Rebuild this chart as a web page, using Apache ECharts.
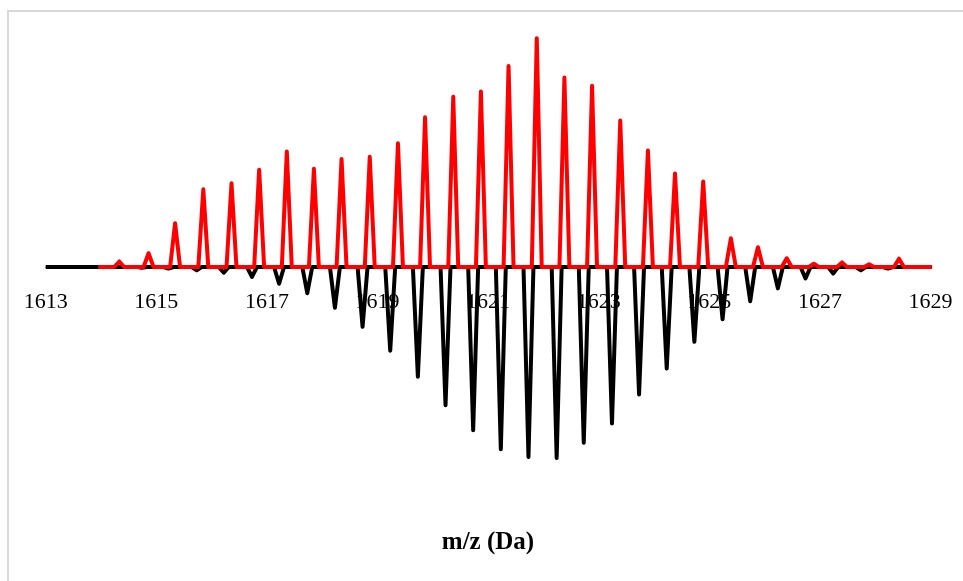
<!DOCTYPE html>
<html>
<head>
<meta charset="utf-8">
<title>m/z mirror spectrum</title>
<script src="https://cdn.jsdelivr.net/npm/echarts@6/dist/echarts.min.js"></script>
<style>
  html, body { margin: 0; padding: 0; background: #fff; }
  #chart { width: 963px; height: 581px; }
</style>
</head>
<body>
<div id="chart"></div>
<script>
'use strict';

// x axis ticks (Da)
const mzMin = 1613;
const mzMax = 1629;
const mzStep = 2;

// red trace (upper) - peak centres and relative heights
const redStart = 1613.95;
const redEnd = 1629.03;
const redMz = [
    1614.33, 1614.86, 1615.34, 1615.85, 1616.36, 1616.86, 1617.36, 1617.85,
    1618.35, 1618.86, 1619.37, 1619.86, 1620.37, 1620.87, 1621.37, 1621.88,
    1622.38, 1622.88, 1623.39, 1623.89, 1624.38, 1624.89, 1625.39, 1625.88,
    1626.40, 1626.89, 1627.40, 1627.89, 1628.43
];
const redHeight = [
    2.4, 6.0, 19.0, 33.8, 36.4, 42.3, 50.2, 42.7,
    47.0, 47.9, 53.8, 65.1, 74.0, 76.3, 87.4, 99.5,
    82.4, 78.8, 63.7, 50.7, 40.7, 37.2, 12.5, 8.6,
    3.8, 1.4, 2.0, 1.2, 3.6
];

// black trace (mirrored, lower) - peak centres and relative depths
const blackStart = 1613;
const blackEnd = 1629;
const blackMz = [
    1614.74, 1615.22, 1615.73, 1616.22, 1616.73, 1617.22, 1617.73, 1618.23,
    1618.73, 1619.23, 1619.73, 1620.23, 1620.73, 1621.23, 1621.73, 1622.24,
    1622.73, 1623.24, 1623.73, 1624.23, 1624.73, 1625.24, 1625.74, 1626.24,
    1626.74, 1627.24, 1627.74, 1628.23
];
const blackDepth = [
    0.3, 0.7, 1.4, 2.5, 4.3, 7.3, 11.4, 17.7,
    26.0, 36.4, 47.7, 60.1, 71.0, 79.2, 82.6, 83.0,
    76.4, 68.0, 55.4, 44.1, 32.5, 22.7, 14.9, 9.3,
    5.0, 2.8, 1.4, 0.7
];

const PEAK_HALF_WIDTH = 0.09;

/**
 * Turn a peak list into a stick-like profile for a line series
 */
const toProfile = (start, end, centres, values, sign) => {
    const pts = [[start, 0]];
    centres.forEach((c, i) => {
        pts.push([c - PEAK_HALF_WIDTH, 0]);
        pts.push([c, sign * values[i]]);
        pts.push([c + PEAK_HALF_WIDTH, 0]);
    });
    pts.push([end, 0]);
    return pts;
};

const serif = "'Liberation Serif', 'Times New Roman', serif";

const chart = echarts.init(document.getElementById('chart'));

// grid bottom sits on the zero line; the mirrored trace is drawn below it unclipped
chart.setOption({
    animation: false,
    backgroundColor: '#fff',
    grid: { left: 45.7, right: 32.5, top: 37, bottom: 314 },
    title: {
        text: 'm/z (Da)',
        left: 483,
        top: 525,
        textAlign: 'center',
        textStyle: { fontFamily: serif, fontWeight: 'bold', fontSize: 25, color: '#000' }
    },
    graphic: [{
        type: 'rect',
        shape: { x: 8, y: 11, width: 1000, height: 1000 },
        style: { fill: 'none', stroke: '#d9d9d9', lineWidth: 2 },
        silent: true
    }],
    xAxis: {
        type: 'value',
        min: mzMin,
        max: mzMax,
        interval: mzStep,
        axisLine: { lineStyle: { color: '#868686', width: 1 } },
        axisTick: { show: false },
        splitLine: { show: false },
        axisLabel: {
            margin: 24,
            fontFamily: serif,
            fontSize: 22,
            color: '#000',
            formatter: v => String(v)
        }
    },
    yAxis: {
        type: 'value',
        min: 0,
        max: 100,
        show: false,
        splitLine: { show: false }
    },
    series: [{
        name: 'black',
        type: 'line',
        data: toProfile(blackStart, blackEnd, blackMz, blackDepth, -1),
        showSymbol: false,
        clip: false,
        lineStyle: { color: '#000', width: 4, join: 'round' },
        z: 2
    }, {
        name: 'red',
        type: 'line',
        data: toProfile(redStart, redEnd, redMz, redHeight, 1),
        showSymbol: false,
        clip: false,
        lineStyle: { color: '#ff0000', width: 4, join: 'round' },
        z: 3
    }]
});
</script>
</body>
</html>
